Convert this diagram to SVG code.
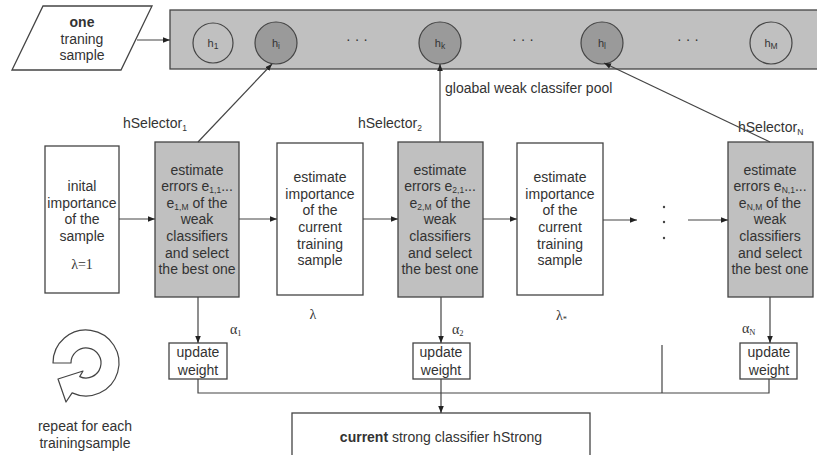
<svg xmlns="http://www.w3.org/2000/svg" width="817" height="455" viewBox="0 0 817 455">
<defs>
<marker id="ah" viewBox="0 0 10 10" refX="10" refY="5" markerWidth="7" markerHeight="7" orient="auto" markerUnits="userSpaceOnUse">
<path d="M0,1 L10,5 L0,9 Z" fill="#222"/>
</marker>
<style>
text{font-family:"Liberation Sans",Arial,sans-serif;font-size:14px;fill:#333}
.c{text-anchor:middle}
.s{font-family:"Liberation Serif","Times New Roman",serif}
.sub{font-size:8.5px}
.box{fill:#fff;stroke:#444;stroke-width:1.3}
.gbox{fill:#c0c0c0;stroke:#444;stroke-width:1.3}
.ln{fill:none;stroke:#444;stroke-width:1.2}
.ar{fill:none;stroke:#444;stroke-width:1.2;marker-end:url(#ah)}
.hc{stroke:#444;stroke-width:1.2}
.ht{font-size:11px}
</style>
</defs>

<g id="sample">
<polygon points="43,6 152,6 121,70 12,70" class="box"/>
<text x="82" y="27" class="c" font-weight="bold">one</text>
<text x="82" y="44" class="c">traning</text>
<text x="82" y="60" class="c">sample</text>
</g>

<g id="pool">
<rect x="170" y="10" width="660" height="59" class="gbox"/>
<circle cx="213" cy="43" r="20" fill="#c0c0c0" class="hc"/>
<text x="213" y="47" class="c ht">h<tspan class="sub" dy="2">1</tspan></text>
<circle cx="276" cy="43" r="21" fill="#9a9a9a" class="hc"/>
<text x="276" y="47" class="c ht">h<tspan class="sub" dy="2">i</tspan></text>
<text x="357" y="44" class="c">·   ·   ·</text>
<circle cx="440" cy="43" r="21" fill="#9a9a9a" class="hc"/>
<text x="440" y="47" class="c ht">h<tspan class="sub" dy="2">k</tspan></text>
<text x="523" y="44" class="c">·   ·   ·</text>
<circle cx="602" cy="43" r="21" fill="#9a9a9a" class="hc"/>
<text x="602" y="47" class="c ht">h<tspan class="sub" dy="2">l</tspan></text>
<text x="688" y="44" class="c">·   ·   ·</text>
<circle cx="771" cy="43" r="21" fill="#c0c0c0" class="hc"/>
<text x="771" y="47" class="c ht">h<tspan class="sub" dy="2">M</tspan></text>
</g>
<text x="445" y="93">gloabal weak classifer pool</text>

<g id="init">
<rect x="45" y="146" width="74" height="147" class="box"/>
<text x="82" y="191" class="c">inital</text>
<text x="82" y="208" class="c">importance</text>
<text x="82" y="224" class="c">of the</text>
<text x="82" y="241" class="c">sample</text>
<text x="82" y="269" class="c s">λ=1</text>
</g>

<g id="sel1">
<rect x="155" y="142" width="84" height="155" class="gbox"/>
<text x="197" y="175" class="c">estimate</text>
<text x="197" y="191" class="c">errors e<tspan class="sub" dy="2">1,1</tspan><tspan dy="-2">...</tspan></text>
<text x="197" y="208" class="c">e<tspan class="sub" dy="2">1,M</tspan><tspan dy="-2"> of the</tspan></text>
<text x="197" y="224" class="c">weak</text>
<text x="197" y="241" class="c">classifiers</text>
<text x="197" y="258" class="c">and select</text>
<text x="197" y="274" class="c">the best one</text>
</g>
<text x="123" y="128">hSelector<tspan class="sub" dy="3">1</tspan></text>

<g id="imp1">
<rect x="277" y="143" width="86" height="152" class="box"/>
<text x="320" y="182" class="c">estimate</text>
<text x="320" y="199" class="c">importance</text>
<text x="320" y="215" class="c">of the</text>
<text x="320" y="232" class="c">current</text>
<text x="320" y="249" class="c">training</text>
<text x="320" y="265" class="c">sample</text>
</g>

<g id="sel2">
<rect x="398" y="142" width="85" height="155" class="gbox"/>
<text x="440" y="175" class="c">estimate</text>
<text x="440" y="191" class="c">errors e<tspan class="sub" dy="2">2,1</tspan><tspan dy="-2">...</tspan></text>
<text x="440" y="208" class="c">e<tspan class="sub" dy="2">2,M</tspan><tspan dy="-2"> of the</tspan></text>
<text x="440" y="224" class="c">weak</text>
<text x="440" y="241" class="c">classifiers</text>
<text x="440" y="258" class="c">and select</text>
<text x="440" y="274" class="c">the best one</text>
</g>
<text x="358" y="128">hSelector<tspan class="sub" dy="3">2</tspan></text>

<g id="imp2">
<rect x="517" y="143" width="86" height="152" class="box"/>
<text x="560" y="182" class="c">estimate</text>
<text x="560" y="199" class="c">importance</text>
<text x="560" y="215" class="c">of the</text>
<text x="560" y="232" class="c">current</text>
<text x="560" y="249" class="c">training</text>
<text x="560" y="265" class="c">sample</text>
</g>

<g id="vdots">
<circle cx="664" cy="207" r="1.2" fill="#444"/>
<circle cx="664" cy="222" r="1.2" fill="#444"/>
<circle cx="664" cy="238" r="1.2" fill="#444"/>
</g>

<g id="selN">
<rect x="728" y="142" width="85" height="155" class="gbox"/>
<text x="770" y="175" class="c">estimate</text>
<text x="770" y="191" class="c">errors e<tspan class="sub" dy="2">N,1</tspan><tspan dy="-2">...</tspan></text>
<text x="770" y="208" class="c">e<tspan class="sub" dy="2">N,M</tspan><tspan dy="-2"> of the</tspan></text>
<text x="770" y="224" class="c">weak</text>
<text x="770" y="241" class="c">classifiers</text>
<text x="770" y="258" class="c">and select</text>
<text x="770" y="274" class="c">the best one</text>
</g>
<text x="738" y="132">hSelector<tspan class="sub" dy="3">N</tspan></text>

<g id="upd1">
<rect x="169" y="343" width="58" height="36" class="box"/>
<text x="198" y="357" class="c">update</text>
<text x="198" y="375" class="c">weight</text>
</g>
<g id="upd2">
<rect x="413" y="343" width="57" height="36" class="box"/>
<text x="441" y="357" class="c">update</text>
<text x="441" y="375" class="c">weight</text>
</g>
<g id="updN">
<rect x="740" y="343" width="57" height="36" class="box"/>
<text x="769" y="357" class="c">update</text>
<text x="769" y="375" class="c">weight</text>
</g>

<g id="strong">
<rect x="292" y="413" width="298" height="60" class="box"/>
<text x="441" y="442" class="c"><tspan font-weight="bold">current</tspan> strong classifier hStrong</text>
</g>

<g id="repeat">
<path d="M53,363 A33,33 0 1 1 72.1,392.9 L66,402 L58,379 L83,371 L79.7,376.6 A15,15 0 1 0 71,363 Z" fill="#fff" stroke="#444" stroke-width="1.2" stroke-linejoin="round"/>
<text x="85" y="431" class="c">repeat for each</text>
<text x="85" y="448" class="c">trainingsample</text>
</g>

<g id="labels">
<text x="230" y="334" class="s">α<tspan class="sub" dy="2">1</tspan></text>
<text x="313" y="319" class="c s">λ</text>
<text x="452" y="334" class="s">α<tspan class="sub" dy="2">2</tspan></text>
<text x="556" y="320" class="s">λ<tspan class="sub" dy="2">*</tspan></text>
<text x="742" y="333" class="s">α<tspan class="sub" dy="2">N</tspan></text>
</g>

<g id="connectors">
<line x1="137" y1="40" x2="170" y2="40" class="ar"/>
<line x1="198" y1="142" x2="272" y2="64" class="ar"/>
<line x1="440" y1="142" x2="440" y2="64" class="ar"/>
<line x1="770" y1="142" x2="604" y2="63" class="ar"/>
<line x1="119" y1="219" x2="155" y2="219" class="ar"/>
<line x1="239" y1="219" x2="277" y2="219" class="ar"/>
<line x1="363" y1="219" x2="398" y2="219" class="ar"/>
<line x1="483" y1="219" x2="517" y2="219" class="ar"/>
<line x1="603" y1="220" x2="637" y2="220" class="ar"/>
<line x1="688" y1="220" x2="728" y2="220" class="ar"/>
<line x1="198" y1="297" x2="198" y2="343" class="ar"/>
<line x1="441" y1="297" x2="441" y2="343" class="ar"/>
<line x1="770" y1="297" x2="770" y2="343" class="ar"/>
<polyline points="198,379 198,393 769,393 769,379" class="ln"/>
<line x1="662" y1="345" x2="662" y2="393" class="ln"/>
<line x1="441" y1="379" x2="441" y2="413" class="ar"/>
</g>
</svg>
